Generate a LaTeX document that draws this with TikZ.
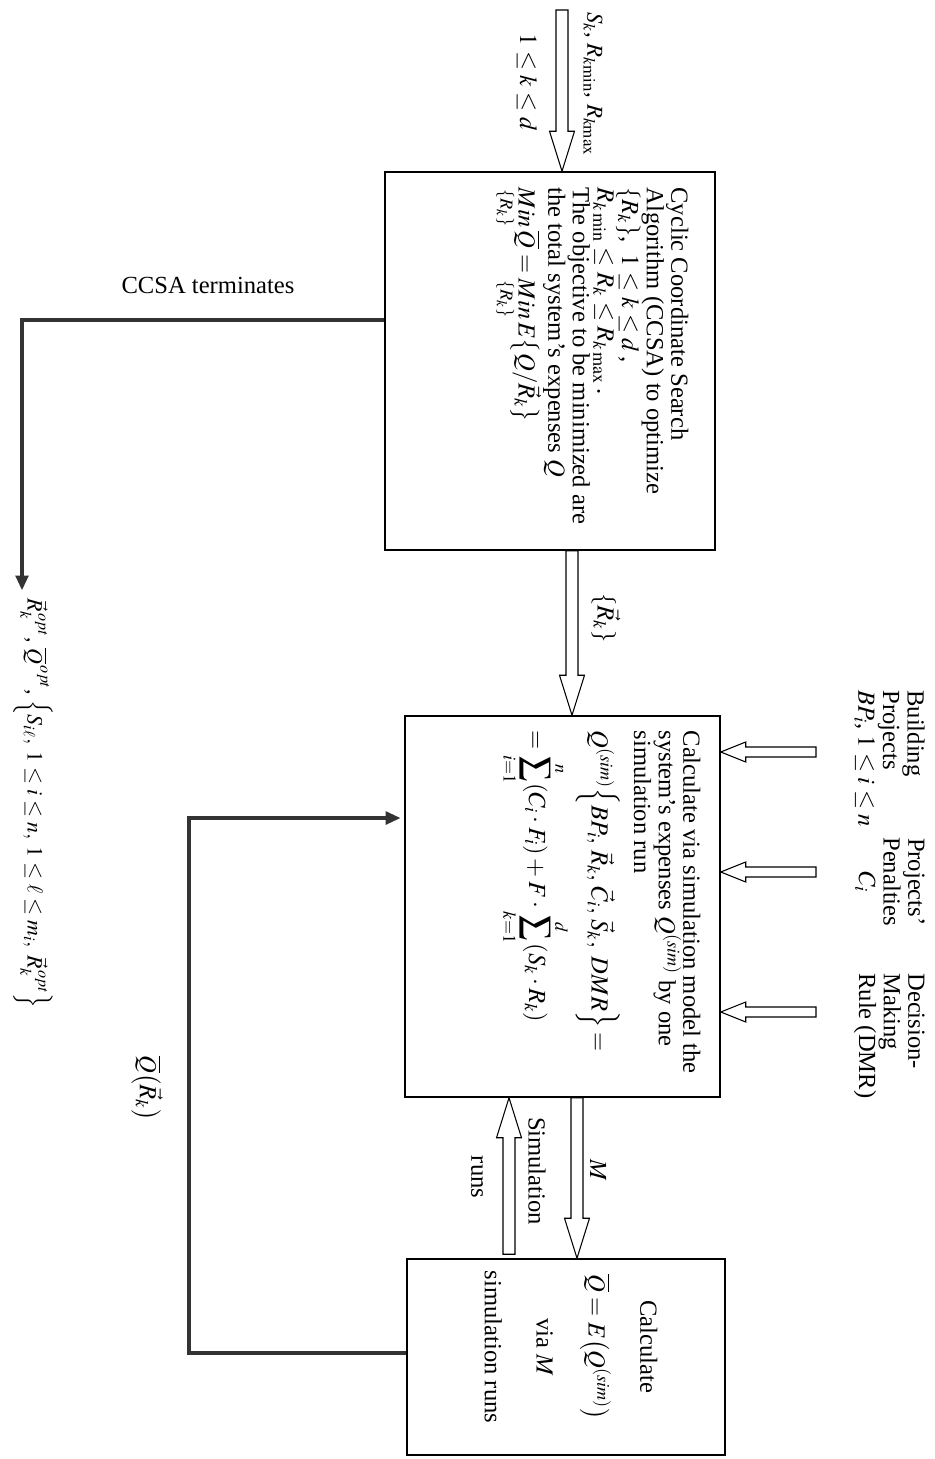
\documentclass[tikz,border=0pt]{standalone}
\usepackage{mathptmx}
\usepackage{fontspec}
\setmainfont{Liberation Serif}
\usetikzlibrary{calc,arrows.meta}

\tikzset{
  stage/.style={draw, line width=0.9pt, inner sep=0pt},
  txt/.style={rotate=-90, inner sep=0pt, align=left, font=\fontsize{14}{14}\selectfont},
  feed/.style={draw=black!80, line width=2.2pt},
  hollow/.style n args={3}{draw, line width=0.6pt, fill=white, to path={
    ($(\tikztostart)!#1!90:(\tikztotarget)$)
    -- ($(\tikztotarget)!#3!(\tikztostart)!#1!90:(\tikztotarget)$)
    -- ($(\tikztotarget)!#3!(\tikztostart)!#2!90:(\tikztotarget)$)
    -- (\tikztotarget)
    -- ($(\tikztotarget)!#3!(\tikztostart)!#2!-90:(\tikztotarget)$)
    -- ($(\tikztotarget)!#3!(\tikztostart)!#1!-90:(\tikztotarget)$)
    -- ($(\tikztostart)!#1!-90:(\tikztotarget)$) -- cycle}},
  bigarrow/.style={hollow={0.12cm}{0.25cm}{0.8cm}},
  sidearrow/.style={hollow={0.1cm}{0.2cm}{0.5cm}}
}

\begin{document}
\begin{tikzpicture}[x=0.02cm, y=-0.02cm]
\useasboundingbox (0,0) rectangle (935,1459);

% stages
\node[stage, minimum width=6.6cm, minimum height=7.56cm] (ccsa) at (550,361) {};
\node[stage, minimum width=6.3cm, minimum height=7.62cm] (sim) at (562.5,906.5) {};
\node[stage, minimum width=6.36cm, minimum height=3.92cm] (mean) at (566,1357) {};

\node[txt, anchor=north west] (ccsatext) at ([xshift=-0.54cm, yshift=-0.32cm]ccsa.north east)
  {Cyclic Coordinate Search\\
   Algorithm (CCSA) to optimize\\
   $\{R_k\}$,\ \ $1\le k\le d$\,,\\
   $R_{k\,\mathrm{min}}\le R_k\le R_{k\,\mathrm{max}}$\,.\\
   The objective to be minimized are\\
   the total system's expenses $Q$\\
   $\mathop{Min}\limits_{\{R_k\}}\overline{Q}=\mathop{Min}\limits_{\{R_k\}}E\bigl\{Q/\vec{R}_k\bigr\}$};

\node[txt, anchor=north west] (simtext) at ([xshift=-0.4cm, yshift=-0.3cm]sim.north east)
  {Calculate via simulation model the\\
   system's expenses $Q^{(sim)}$ by one\\
   simulation run\\[7pt]
   $Q^{(sim)}\Bigl\{BP_i,\,\vec R_k,\,\vec C_i,\,\vec S_k,\ DMR\Bigr\}=$\\[2pt]
   $\displaystyle=\sum_{i=1}^{n}(C_i\cdot F_i)+F\cdot\sum_{k=1}^{d}(S_k\cdot R_k)$};

\node[txt, align=center, font=\fontsize{14}{29.5}\selectfont] (meantext) at ([xshift=0.1cm, yshift=0.2cm]mean)
  {Calculate\\ $\overline{Q}=E\bigl(Q^{(sim)}\bigr)$\\ via $M$\\ simulation runs};

% inputs
\node[txt, anchor=north west, font=\fontsize{13}{13}\selectfont] (inlabel) at (603,12)
  {$S_k$, $R_{k\mathrm{min}}$, $R_{k\mathrm{max}}$};
\node[txt] (krange) at (527,82) {$1\le k\le d$};
\coordinate (input) at (562,10);
\draw[bigarrow] (input) to (input |- ccsa.north);

\node[txt, anchor=north west] (bp) at (925,690) {Building\\Projects\\$BP_i$,\ $1\le i\le n$};
\node[txt, anchor=north west, align=center] (pen) at (925,837) {Projects'\\Penalties\\$C_i$};
\node[txt, anchor=north west] (dmr) at (925,973) {Decision-\\Making\\Rule (DMR)};
\coordinate (bptail) at (816,752);
\coordinate (pentail) at (816,872);
\coordinate (dmrtail) at (816,1012);
\draw[sidearrow] (bptail) to (bptail -| sim.east);
\draw[sidearrow] (pentail) to (pentail -| sim.east);
\draw[sidearrow] (dmrtail) to (dmrtail -| sim.east);

% between the stages
\draw[bigarrow] ([xshift=0.44cm]ccsa.south) to ([xshift=0.44cm]ccsa.south |- sim.north);
\node[txt] (rklabel) at (606,618) {$\{\vec R_k\}$};
\draw[bigarrow] ([xshift=0.29cm]sim.south) to ([xshift=0.29cm]sim.south |- mean.north);
\node[txt] (mlabel) at (598,1170) {$M$};
\draw[bigarrow] ([xshift=-1.14cm, yshift=0.08cm]mean.north) to ([xshift=-1.14cm]mean.north |- sim.south);
\node[txt] (simlabel) at (537,1171) {Simulation};
\node[txt] (runslabel) at (477,1177) {runs};

% feedback and result
\draw[feed, -{Triangle[length=0.3cm, width=0.25cm]}, shorten >=2pt]
  ([yshift=0.08cm]mean.west) -- ++(-4.34cm,0) |- ([yshift=1.77cm]sim.west);
\node[txt] (qlabel) at (147,1088) {$\overline{Q}\bigl(\vec R_k\bigr)$};

\node[font=\fontsize{14}{14}\selectfont, inner sep=0pt] (term) at (208,285) {CCSA terminates};
\node[txt, anchor=west, font=\fontsize{12.5}{12}\selectfont] (result) at (33,598)
  {$\vec R_k^{\,opt}$, $\overline{Q}^{\,opt}$, $\Bigl\{S_{i\ell},\; 1\le i\le n,\; 1\le\ell\le m_i,\; \vec R_k^{\,opt}\Bigr\}$};
\draw[feed, -{Triangle[length=0.3cm, width=0.25cm]}, shorten >=0.15cm]
  ([yshift=0.82cm]ccsa.west) -| ([xshift=-0.22cm]result.west);
\end{tikzpicture}
\end{document}
